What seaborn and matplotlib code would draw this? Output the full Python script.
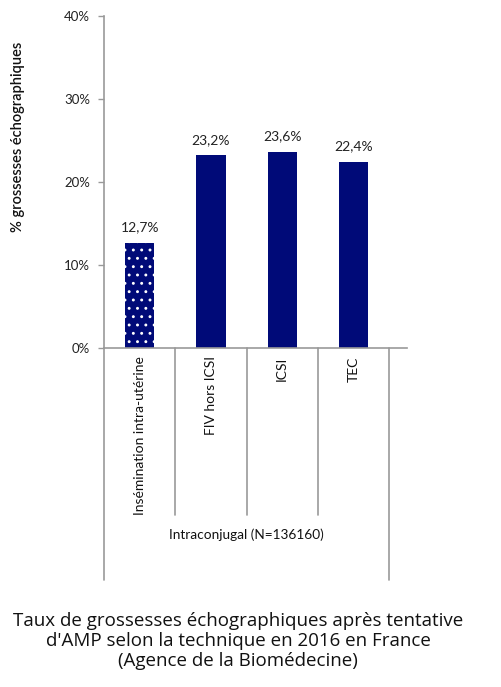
import matplotlib
matplotlib.use("Agg")
import matplotlib.pyplot as plt
import seaborn as sns
import pandas as pd

categories = ["Insémination intra-utérine", "FIV hors ICSI", "ICSI", "TEC"]
values = [12.7, 23.2, 23.6, 22.4]
value_labels = ["12,7%", "23,2%", "23,6%", "22,4%"]
yticks = [0, 10, 20, 30, 40]
ytick_labels = ["0%", "10%", "20%", "30%", "40%"]
group_label = "Intraconjugal (N=136160)"
ylabel = "% grossesses échographiques"
title = ("Taux de grossesses échographiques après tentative\n"
         "d'AMP selon la technique en 2016 en France\n"
         "(Agence de la Biomédecine)")

sns.set_theme(style="white")
plt.rcParams['font.family'] = ['Lato', 'DejaVu Sans']
plt.rcParams['hatch.linewidth'] = 0.9

W, H = 502, 687
fig = plt.figure(figsize=(W / 100, H / 100), dpi=100)
ax = fig.add_axes([104 / W, (H - 348) / H, (407 - 104) / W, (348 - 16) / H])

navy = "#000A78"
df = pd.DataFrame({"cat": categories, "val": values})
sns.barplot(data=df, x="cat", y="val", color=navy, saturation=1, width=0.41,
            ax=ax, linewidth=0)
ax.patches[0].set_hatch("..")
ax.patches[0].set_edgecolor("white")
ax.patches[0].set_linewidth(0)

ax.set_xlim(-0.5, 3.75)
ax.set_ylim(0, 40)
ax.set_yticks(yticks)
ax.set_yticklabels(ytick_labels, fontsize=9.5, color="#222222")
ax.tick_params(axis="y", which="both", left=True, length=4, width=1,
               color="#999999", pad=6)
ax.set_xticks([])
ax.set_xlabel("")
ax.set_ylabel("")
for s in ["top", "right"]:
    ax.spines[s].set_visible(False)
for s in ["left", "bottom"]:
    ax.spines[s].set_color("#999999")
    ax.spines[s].set_linewidth(1.2)

# value labels
for i, (v, lab) in enumerate(zip(values, value_labels)):
    ax.annotate(lab, (i, v), xytext=(0, 7), textcoords="offset points",
                ha="center", va="bottom", fontsize=10, color="#222222")

# category labels
trans = ax.get_xaxis_transform()
for i, c in enumerate(categories):
    ax.text(i, -0.025, c, rotation=90, ha="center", va="top", fontsize=10,
            color="#111111", transform=trans, clip_on=False)

# separators
n = len(categories)
for b in range(n + 1):
    x = b - 0.5
    low = -0.70 if b in (0, n) else -0.503
    ax.plot([x, x], [0, low], transform=trans, color="#999999", lw=1.2,
            clip_on=False)

ax.text((n - 1) / 2, -0.562, group_label, ha="center", va="center",
        fontsize=9.8, color="#111111", transform=trans, clip_on=False)

fig.text(18 / W, (H - 137) / H, ylabel, rotation=90, ha="center", va="center",
         fontsize=10.5, color="#111111", weight="semibold")

fig.text(238 / W, (H - 641) / H, title, ha="center", va="center",
         fontsize=13.5, family=["Open Sans", "DejaVu Sans"], color="#111111",
         linespacing=1.15)

fig.savefig("out.png", dpi=100)
